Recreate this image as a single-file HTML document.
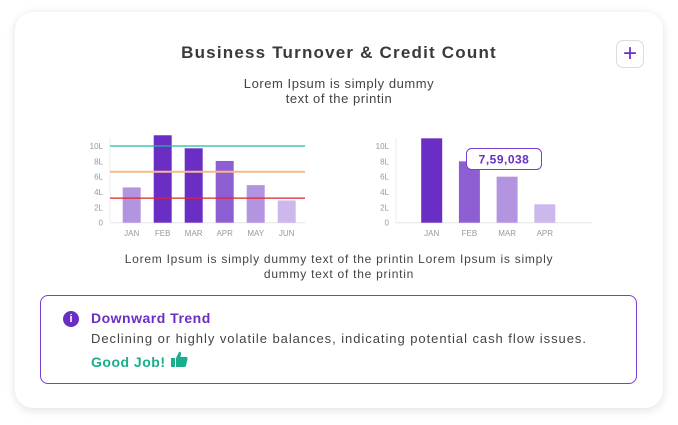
<!DOCTYPE html>
<html><head><meta charset="utf-8"><style>
*{margin:0;padding:0;box-sizing:border-box}
body{width:678px;height:425px;background:#fff;font-family:"Liberation Sans",sans-serif;position:relative;overflow:hidden}
.card{position:absolute;left:15px;top:12px;width:648px;height:396px;background:#fff;border-radius:18px;box-shadow:0 2px 10px rgba(0,0,0,0.12)}
.abs{position:absolute}
</style></head><body>
<div class="card"></div>
<div class="abs" style="left:0;width:678px;top:43px;text-align:center;font-size:17px;font-weight:bold;color:#3a3a3a;letter-spacing:1.2px">Business Turnover &amp; Credit Count</div>
<div class="abs" style="left:616px;top:40px;width:28px;height:28px;border:1px solid #ddd;border-radius:7px;color:#6a2ec4;font-size:24px;line-height:25px;text-align:center">+</div>
<div class="abs" style="left:0;width:678px;top:76px;text-align:center;font-size:13px;line-height:15px;color:#444;letter-spacing:0.55px">Lorem Ipsum is simply dummy<br>text of the printin</div>

<svg class="abs" style="left:0;top:0" width="678" height="425" id="charts"></svg>

<div class="abs" style="left:0;width:678px;top:252px;text-align:center;font-size:12px;line-height:15px;color:#444;letter-spacing:0.75px">Lorem Ipsum is simply dummy text of the printin Lorem Ipsum is simply<br>dummy text of the printin</div>

<div class="abs" style="left:40px;top:295px;width:597px;height:89px;border:1px solid #7a3fd0;border-radius:8px">
  <div class="abs" style="left:22px;top:15px;width:16px;height:16px;border-radius:50%;background:#6a2ec4;color:#fff;font-size:11px;font-weight:bold;text-align:center;line-height:16px">i</div>
  <div class="abs" style="left:50px;top:14px;font-size:14px;font-weight:bold;color:#6a2ec4;letter-spacing:0.5px">Downward Trend</div>
  <div class="abs" style="left:50px;top:35px;font-size:13px;color:#444;letter-spacing:0.95px">Declining or highly volatile balances, indicating potential cash flow issues.</div>
  <div class="abs" style="left:50px;top:58px;font-size:14px;font-weight:bold;color:#1aae8c;letter-spacing:0.5px">Good Job!</div>
  <svg class="abs" style="left:130px;top:55px" width="17" height="17" viewBox="0 0 17 17"><rect x="0" y="7" width="4" height="9" fill="#1aae8c"/><path d="M5 7 L8 1 Q10 0 10 3 L9.5 6 L15 6 Q17 6 16.5 8 L15 15 Q14.5 16 13 16 L5 16 Z" fill="#1aae8c"/></svg>
</div>

<script>
const leftCats=["JAN","FEB","MAR","APR","MAY","JUN"];
const leftVals=[4.6,11.4,9.7,8.05,4.9,2.9];
const leftColors=["#b394e0","#6a2ec4","#6a2ec4","#8e5fd3","#b394e0","#ccb8ec"];
const refLines=[10,6.65,3.2];
const refColors=["#1abc9c","#f7b98b","#d9262c"];
const rightCats=["JAN","FEB","MAR","APR"];
const rightVals=[11.0,8.0,6.0,2.4];
const rightColors=["#6a2ec4","#8e5fd3","#b394e0","#ccb8ec"];
const tickVals=[0,2,4,6,8,10];
const tickLabels=["0","2L","4L","6L","8L","10L"];
const tooltipText="7,59,038";

const svg=document.getElementById('charts');
const NS="http://www.w3.org/2000/svg";
function mk(t,a){const e=document.createElementNS(NS,t);for(const k in a)e.setAttribute(k,a[k]);svg.appendChild(e);return e;}
const y0=222.7,pxPer=7.67;
function yS(v){return y0-v*pxPer;}

function drawChart(axX,axEnd,firstC,step,bw,cats,vals,cols,prefix){
  tickVals.forEach((v,i)=>{
    const t=mk('text',{x:axX-7,y:yS(v)+3,'text-anchor':'end','font-size':'8','fill':'#999','font-family':'Liberation Sans, sans-serif'});
    t.textContent=tickLabels[i];
    
    
  });
  const ax=mk('line',{x1:axX,y1:y0,x2:axEnd,y2:y0,stroke:'#e6e6e6','stroke-width':1});
  
  
  const ay=mk('line',{x1:axX,y1:y0,x2:axX,y2:138,stroke:'#eee','stroke-width':1});
  
  
  cats.forEach((c,i)=>{
    const cx=firstC+i*step;
    const r=mk('rect',{x:cx-bw/2,y:yS(vals[i]),width:bw,height:y0-yS(vals[i]),fill:cols[i]});
    
    
    const t=mk('text',{x:cx,y:236,'text-anchor':'middle','font-size':'8','fill':'#999','font-family':'Liberation Sans, sans-serif'});
    t.textContent=c;
    
    
  });
}
drawChart(110,305,131.7,31,18,leftCats,leftVals,leftColors,'left');
refLines.forEach((v,i)=>{
  const l=mk('line',{x1:110,y1:yS(v),x2:305,y2:yS(v),stroke:refColors[i],'stroke-width':i==1?2:1.2});
  
  
});
drawChart(396,592,431.7,37.7,21,rightCats,rightVals,rightColors,'right');
const tb=mk('rect',{x:466.5,y:148.5,width:75,height:21,rx:5,fill:'#fff',stroke:'#7a3fd0','stroke-width':1});


const tt=mk('text',{x:504,y:163.5,'text-anchor':'middle','font-size':'12','font-weight':'bold','fill':'#6a2ec4','font-family':'Liberation Sans, sans-serif','letter-spacing':'0.5'});
tt.textContent=tooltipText;


</script>
</body></html>
